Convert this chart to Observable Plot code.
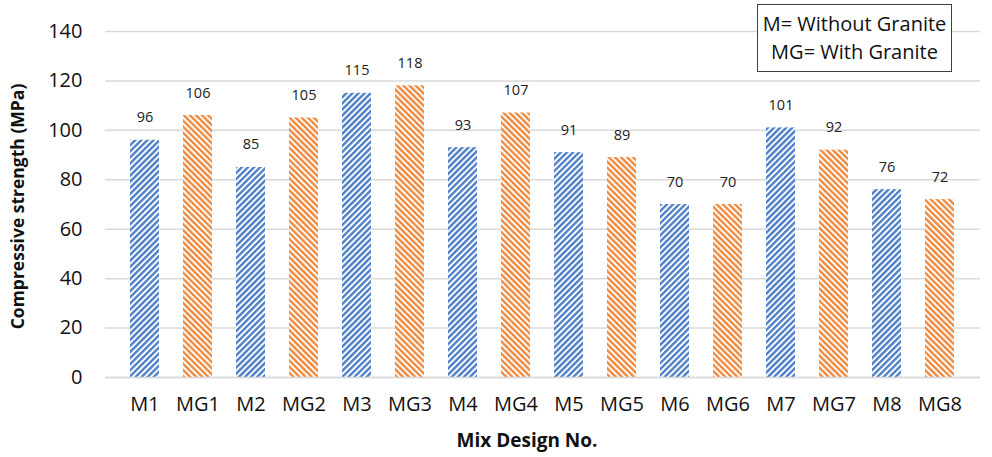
<!DOCTYPE html>
<html>
<head>
<meta charset="utf-8">
<script src="https://cdn.jsdelivr.net/npm/d3@7"></script>
<script src="https://cdn.jsdelivr.net/npm/@observablehq/plot@0.6"></script>
<style>
  html, body { margin: 0; padding: 0; background: #fff; }
  #wrap { position: relative; width: 992px; height: 457px; font-family: "Open Sans", sans-serif; }
  #chart g[aria-label="x-axis tick label"],
  #chart g[aria-label="y-axis tick label"] { font-size: 20px; fill: #111; }
  #legend {
    position: absolute; left: 757px; top: 4px; width: 193px; height: 61px;
    border: 1px solid #404040; background: #fff;
    font-size: 20px; line-height: 28px; text-align: center; color: #111;
    padding-top: 5px; box-sizing: content-box; white-space: nowrap;
  }
</style>
</head>
<body>
<div id="wrap">
  <div id="chart"></div>
  <div id="legend">M= Without Granite<br>MG= With Granite</div>
</div>
<script>
// Mix designs and their compressive strength (MPa)
const mixes = ["M1", "MG1", "M2", "MG2", "M3", "MG3", "M4", "MG4", "M5", "MG5", "M6", "MG6", "M7", "MG7", "M8", "MG8"];
const strength = [96, 106, 85, 105, 115, 118, 93, 107, 91, 89, 70, 70, 101, 92, 76, 72];
const groups = ["M", "MG", "M", "MG", "M", "MG", "M", "MG", "M", "MG", "M", "MG", "M", "MG", "M", "MG"];
const yTicks = [0, 20, 40, 60, 80, 100, 120, 140];

const rows = mixes.map((mix, i) => ({mix, value: strength[i], group: groups[i]}));
const plain = rows.filter(d => d.group === "M");
const granite = rows.filter(d => d.group === "MG");

const chart = Plot.plot({
  width: 992,
  height: 457,
  marginLeft: 105,
  marginRight: 12,
  marginTop: 31,
  marginBottom: 80,
  style: {fontFamily: "'Open Sans', sans-serif", color: "#000", background: "#fff"},
  x: {domain: mixes, padding: 0.45, label: null},
  y: {domain: [0, 140], label: null},
  marks: [
    Plot.gridY(yTicks, {stroke: "#d9d9d9", strokeWidth: 1.5, strokeOpacity: 1}),
    Plot.axisY(yTicks, {tickSize: 0, tickPadding: 23, label: null}),
    Plot.axisX({tickSize: 0, tickPadding: 19, label: null}),
    Plot.barY(plain, {x: "mix", y: "value", fill: "url(#stripe-m)"}),
    Plot.barY(granite, {x: "mix", y: "value", fill: "url(#stripe-mg)"}),
    Plot.ruleY([0], {stroke: "#d9d9d9", strokeWidth: 1.5}),
    Plot.text(rows, {x: "mix", y: "value", text: d => String(d.value), lineAnchor: "bottom", dy: -18, fontSize: 14.5, fill: "#222"}),
    Plot.text(["Mix Design No."], {frameAnchor: "bottom", dx: -16, dy: 69, fontSize: 19, fontWeight: "bold", fill: "#111"}),
    Plot.text(["Compressive strength (MPa)"], {frameAnchor: "left", textAnchor: "middle", rotate: -90, dx: -87, dy: 2, fontSize: 17.5, fontWeight: "bold", fill: "#111"})
  ]
});

// Diagonal hatch fills for the two mix groups
const ns = "http://www.w3.org/2000/svg";
const defs = document.createElementNS(ns, "defs");
function stripe(id, color, angle) {
  const p = document.createElementNS(ns, "pattern");
  p.setAttribute("id", id);
  p.setAttribute("patternUnits", "userSpaceOnUse");
  p.setAttribute("width", "4.3");
  p.setAttribute("height", "10");
  p.setAttribute("patternTransform", `rotate(${angle})`);
  const bg = document.createElementNS(ns, "rect");
  bg.setAttribute("width", "4.3"); bg.setAttribute("height", "10"); bg.setAttribute("fill", "#fff");
  const fg = document.createElementNS(ns, "rect");
  fg.setAttribute("width", "2.4"); fg.setAttribute("height", "10"); fg.setAttribute("fill", color);
  p.appendChild(bg); p.appendChild(fg);
  defs.appendChild(p);
}
stripe("stripe-m", "#4f7fc6", 45);
stripe("stripe-mg", "#f08a3e", -45);
chart.insertBefore(defs, chart.firstChild);

document.getElementById("chart").appendChild(chart);
</script>
</body>
</html>
